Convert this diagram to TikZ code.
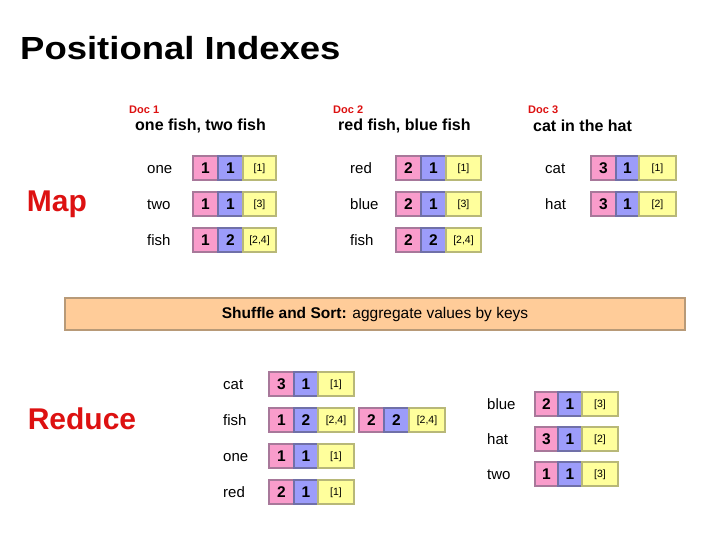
\documentclass[tikz,border=0pt]{standalone}
\usepackage{fontspec}
\setmainfont{Liberation Sans}
\definecolor{pinkF}{HTML}{F99CCB}
\definecolor{pinkD}{HTML}{A8789A}
\definecolor{blueF}{HTML}{9C9CFA}
\definecolor{blueD}{HTML}{7070A8}
\definecolor{yelF}{HTML}{FFFF9C}
\definecolor{yelD}{HTML}{B8B878}
\definecolor{barF}{HTML}{FFCC99}
\definecolor{barD}{HTML}{B89A78}
\definecolor{redT}{HTML}{DD1111}
\tikzset{
  cell/.style={draw, line width=1.6pt, inner sep=0pt, outer sep=0pt, minimum height=24pt},
  pk/.style={cell, fill=pinkF, draw=pinkD, font=\fontsize{15.5}{18}\selectfont\bfseries},
  bl/.style={cell, fill=blueF, draw=blueD, font=\fontsize{15.5}{18}\selectfont\bfseries},
  yl/.style={cell, fill=yelF, draw=yelD, text depth=0pt, font=\fontsize{10.5}{12}\selectfont},
  word/.style={anchor=base west, inner sep=0pt, font=\fontsize{15}{18}\selectfont},
  doclab/.style={anchor=west, inner sep=0pt, text=redT, font=\fontsize{11}{13}\selectfont\bfseries},
  doctxt/.style={anchor=west, inner sep=0pt, font=\fontsize{16}{19}\selectfont\bfseries},
  phase/.style={inner sep=0pt, text=redT, font=\fontsize{30}{34}\selectfont\bfseries},
}
\newcommand{\entry}[9]{%
  \node[pk, minimum width=#4pt, anchor=west] (#1p) at (#2,#3) {#7};
  \node[bl, minimum width=#5pt, anchor=west] (#1b) at (#1p.east) {#8};
  \node[yl, minimum width=#6pt, anchor=west] (#1y) at (#1b.east) {#9};
}
\begin{document}
\begin{tikzpicture}[x=1pt, y=-1pt]
\useasboundingbox[fill=white] (0,0) rectangle (720,540);
% title
\node[anchor=base west, inner sep=0pt] (title) at (20,60)
  {\scalebox{1.14}[1]{\fontsize{32}{36}\selectfont\bfseries Positional Indexes}};
% phases
\node[phase] (map) at (57,204) {Map};
\node[phase] (reduce) at (82,419) {Reduce};
% documents
\node[doclab] (d1) at (129,110) {Doc 1};
\node[doctxt] (d1t) at (135,126) {one fish, two fish};
\node[doclab] (d2) at (333,110) {Doc 2};
\node[doctxt] (d2t) at (338,126) {red fish, blue fish};
\node[doclab] (d3) at (528,110) {Doc 3};
\node[doctxt] (d3t) at (533,126) {cat in the hat};
% Doc 1
\node[word] (w1a) at (147,173.5) {one};
\node[word] (w1b) at (147,209.5) {two};
\node[word] (w1c) at (147,245.5) {fish};
\entry{m1a}{193}{168}{25}{25}{33}{1}{1}{[1]}
\entry{m1b}{193}{204}{25}{25}{33}{1}{1}{[3]}
\entry{m1c}{193}{240}{25}{25}{33}{1}{2}{[2,4]}
% Doc 2
\node[word] (w2a) at (350,173.5) {red};
\node[word] (w2b) at (350,209.5) {blue};
\node[word] (w2c) at (350,245.5) {fish};
\entry{m2a}{396}{168}{25}{25}{35}{2}{1}{[1]}
\entry{m2b}{396}{204}{25}{25}{35}{2}{1}{[3]}
\entry{m2c}{396}{240}{25}{25}{35}{2}{2}{[2,4]}
% Doc 3
\node[word] (w3a) at (545,173.5) {cat};
\node[word] (w3b) at (545,209.5) {hat};
\entry{m3a}{591}{168}{25}{23}{37}{3}{1}{[1]}
\entry{m3b}{591}{204}{25}{23}{37}{3}{1}{[2]}
% shuffle bar
\node[draw=barD, fill=barF, line width=1.6pt, minimum width=620pt, minimum height=32pt,
      inner sep=0pt, font=\fontsize{15.5}{18}\selectfont] (bar) at (375,314)
  {\textbf{Shuffle and Sort:} aggregate values by keys};
% reduce left
\node[word] (r1) at (223,389.5) {cat};
\node[word] (r2) at (223,425.5) {fish};
\node[word] (r3) at (223,461.5) {one};
\node[word] (r4) at (223,497.5) {red};
\entry{ra}{269}{384}{25}{24}{36}{3}{1}{[1]}
\entry{rb}{269}{420}{25}{24}{36}{1}{2}{[2,4]}
\entry{rc}{269}{456}{25}{24}{36}{1}{1}{[1]}
\entry{rd}{269}{492}{25}{24}{36}{2}{1}{[1]}
\entry{re}{359}{420}{25}{25}{36}{2}{2}{[2,4]}
% reduce right
\node[word] (s1) at (487,409.5) {blue};
\node[word] (s2) at (487,444.5) {hat};
\node[word] (s3) at (487,479.5) {two};
\entry{sa}{535}{404}{23}{24}{36}{2}{1}{[3]}
\entry{sb}{535}{439}{23}{24}{36}{3}{1}{[2]}
\entry{sc}{535}{474}{23}{24}{36}{1}{1}{[3]}
\end{tikzpicture}
\end{document}
